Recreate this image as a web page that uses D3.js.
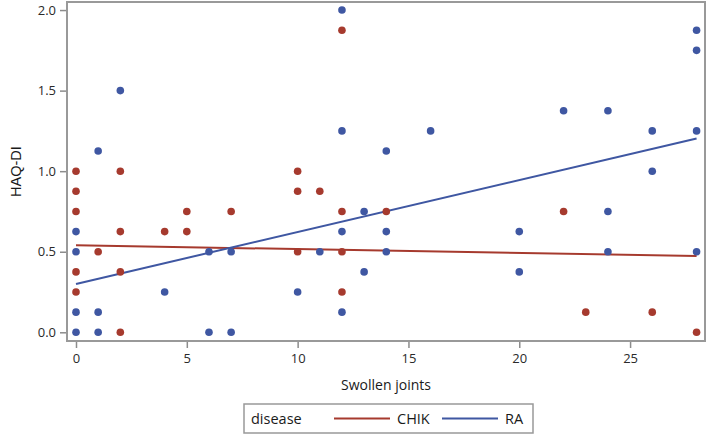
<!DOCTYPE html>
<html>
<head>
  <meta charset="UTF-8">
  <style>
    body { margin: 0; background: white; }
    svg { display: block; font-family: "Open Sans", "Noto Sans", sans-serif; }
  </style>
</head>
<body>
<svg></svg>
<script src="https://d3js.org/d3.v7.min.js"></script>
<script>
let width = 708, height = 438;

// CHIK points: [swollen joints, HAQ-DI]
const chikX = [0, 0, 0, 0, 0, 1, 2, 2, 2, 2, 4, 5, 5, 7, 10, 10, 10, 11, 12, 12, 12, 12, 14, 22, 23, 26, 28];
const chikY = [1.0, 0.875, 0.75, 0.375, 0.25, 0.5, 1.0, 0.625, 0.375, 0, 0.625, 0.75, 0.625, 0.75, 1.0, 0.875, 0.5, 0.875, 1.875, 0.75, 0.5, 0.25, 0.75, 0.75, 0.125, 0.125, 0];

// RA points
const raX = [0, 0, 0, 0, 1, 1, 1, 2, 4, 6, 6, 7, 7, 10, 11, 12, 12, 12, 12, 13, 13, 14, 14, 14, 16, 20, 20, 22, 24, 24, 24, 26, 26, 28, 28, 28, 28];
const raY = [0.625, 0.5, 0.125, 0, 1.125, 0.125, 0, 1.5, 0.25, 0.5, 0, 0.5, 0, 0.25, 0.5, 2.0, 1.25, 0.625, 0.125, 0.75, 0.375, 1.125, 0.625, 0.5, 1.25, 0.625, 0.375, 1.375, 1.375, 0.75, 0.5, 1.25, 1.0, 1.875, 1.75, 1.25, 0.5];

// fitted lines: value at x=0 and x=28
const groups = ["CHIK", "RA"];
const fitStart = [0.54, 0.30];
const fitEnd = [0.474, 1.203];
const fitRange = [0, 28];

const xTicks = [0, 5, 10, 15, 20, 25];
const yTicks = [0, 0.5, 1.0, 1.5, 2.0];

const colors = { CHIK: "#A63A2E", RA: "#3F57A2" };

let svg = d3.select("svg")
    .attr("width", width)
    .attr("height", height);

const pLeft = 67, pRight = 705, pTop = 2, pBottom = 341;

const x = d3.scaleLinear().domain([-0.406, 28.38]).range([pLeft, pRight]);
const y = d3.scaleLinear().domain([-0.054, 2.05]).range([pBottom, pTop]);

// axes
const xAxis = svg.append("g")
    .attr("transform", `translate(0,${pBottom})`)
    .call(d3.axisBottom(x).tickValues(xTicks).tickSize(7).tickPadding(6).tickFormat(d3.format("d")));
const yAxis = svg.append("g")
    .attr("transform", `translate(${pLeft},0)`)
    .call(d3.axisLeft(y).tickValues(yTicks).tickSize(7).tickPadding(4).tickFormat(d3.format(".1f")));

[xAxis, yAxis].forEach(a => {
    a.select(".domain").remove();
    a.selectAll(".tick line").attr("stroke", "#8c8c8c").attr("stroke-width", 1.5);
    a.selectAll(".tick text")
        .attr("fill", "#2a2a2a")
        .style("font-size", "13px")
        .style("font-family", "'Open Sans', sans-serif");
});

// frame
svg.append("rect")
    .attr("x", pLeft)
    .attr("y", pTop)
    .attr("width", pRight - pLeft)
    .attr("height", pBottom - pTop)
    .attr("fill", "none")
    .attr("stroke", "#999")
    .attr("stroke-width", 2);

// axis labels
svg.append("text")
    .attr("x", (pLeft + pRight) / 2)
    .attr("y", 390)
    .attr("text-anchor", "middle")
    .attr("fill", "#1a1a1a")
    .style("font-size", "14px")
    .text("Swollen joints");

svg.append("text")
    .attr("transform", `translate(21,${(pTop + pBottom) / 2}) rotate(-90)`)
    .attr("text-anchor", "middle")
    .attr("fill", "#1a1a1a")
    .style("font-size", "14.5px")
    .style("font-family", "'Liberation Sans', Arial, sans-serif")
    .text("HAQ-DI");

const plot = svg.append("g");

// regression lines
groups.forEach((g, i) => {
    plot.append("line")
        .attr("x1", x(fitRange[0]))
        .attr("y1", y(fitStart[i]))
        .attr("x2", x(fitRange[1]))
        .attr("y2", y(fitEnd[i]))
        .attr("stroke", colors[g])
        .attr("stroke-width", 2);
});

// points
const chik = chikX.map((v, i) => ({ x: v, y: chikY[i], g: "CHIK" }));
const ra = raX.map((v, i) => ({ x: v, y: raY[i], g: "RA" }));

plot.selectAll("circle.chik")
    .data(chik)
    .join("circle")
    .attr("class", "chik")
    .attr("cx", d => x(d.x))
    .attr("cy", d => y(d.y))
    .attr("r", 3.8)
    .attr("fill", colors.CHIK);

plot.selectAll("circle.ra")
    .data(ra)
    .join("circle")
    .attr("class", "ra")
    .attr("cx", d => x(d.x))
    .attr("cy", d => y(d.y))
    .attr("r", 3.8)
    .attr("fill", colors.RA);

// legend
const legend = svg.append("g").attr("transform", "translate(244,404)");
legend.append("rect")
    .attr("width", 289)
    .attr("height", 29)
    .attr("fill", "white")
    .attr("stroke", "#999")
    .attr("stroke-width", 1.5);
legend.append("text")
    .attr("x", 7)
    .attr("y", 20)
    .attr("fill", "#1a1a1a")
    .style("font-size", "14.5px")
    .text("disease");

const legendItems = [{ g: "CHIK", x0: 90 }, { g: "RA", x0: 198 }];
legendItems.forEach(item => {
    legend.append("line")
        .attr("x1", item.x0)
        .attr("x2", item.x0 + 56)
        .attr("y1", 14.5)
        .attr("y2", 14.5)
        .attr("stroke", colors[item.g])
        .attr("stroke-width", 2);
    legend.append("text")
        .attr("x", item.x0 + 63)
        .attr("y", 20)
        .attr("fill", "#1a1a1a")
        .style("font-size", "14.5px")
        .text(item.g);
});
</script>
</body>
</html>
